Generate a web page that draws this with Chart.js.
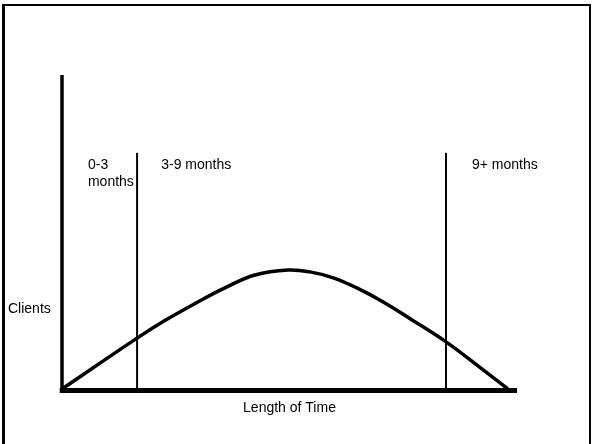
<!DOCTYPE html>
<html>
<head>
<meta charset="utf-8">
<script src="https://cdn.jsdelivr.net/npm/chart.js@4/dist/chart.umd.min.js"></script>
<style>
  html, body { margin: 0; padding: 0; background: #fff; }
  #wrap { position: relative; width: 592px; height: 444px; }
  #frame {
    position: absolute; left: 2px; top: 4px; width: 584px; height: 450px;
    border-left: 3px solid #000; border-top: 2px solid #000; border-right: 2px solid #000;
    pointer-events: none;
  }
</style>
</head>
<body>
<div id="wrap">
  <canvas id="lifeChart" width="592" height="444"></canvas>
  <div id="frame"></div>
</div>
<script>
// curve (x: length of time, y: clients, both 0-100)
const timeX = [0, 16.5, 22.6, 29.2, 35.8, 42.4, 49.7, 54.5, 59.6, 64.8, 70.5, 76.5, 84.4, 91.2, 98.0];
const clientsY = [0, 16.2, 21.8, 27.2, 32.2, 36.3, 37.9, 37.3, 35.4, 32.2, 27.8, 22.4, 15.0, 7.6, 0];

// stage dividers
const dividerX = [16.5, 84.4];
const dividerTop = 75.2;

// text labels placed in data units
const stageLabels = [
  { lines: ["0-3", "months"], x: 5.7, y: 71.3 },
  { lines: ["3-9 months"], x: 21.8, y: 71.3 },
  { lines: ["9+ months"], x: 90.1, y: 71.3 },
];
const xTitle = "Length of Time";
const yTitle = "Clients";

const curvePoints = timeX.map((x, i) => ({ x: x, y: clientsY[i] }));

const datasets = [
  {
    data: curvePoints,
    borderColor: "#000",
    borderWidth: 3.5,
    tension: 0.4,
    pointRadius: 0,
  },
  {
    data: [{ x: 0, y: -0.5 }, { x: 0, y: 100 }],
    borderColor: "#000",
    borderWidth: 3.5,
    pointRadius: 0,
  },
  {
    data: [{ x: -0.5, y: -0.5 }, { x: 100, y: -0.5 }],
    borderColor: "#000",
    borderWidth: 5,
    pointRadius: 0,
  },
];
dividerX.forEach((dx) => {
  datasets.push({
    data: [{ x: dx, y: 0 }, { x: dx, y: dividerTop }],
    borderColor: "#000",
    borderWidth: 2,
    pointRadius: 0,
  });
});
datasets.forEach((ds) => {
  ds.clip = false;
});

// draws the texts through the scales
const textPlugin = {
  id: "textPlugin",
  afterDatasetsDraw(chart) {
    const ctx = chart.ctx;
    const xs = chart.scales.x;
    const ys = chart.scales.y;
    ctx.save();
    ctx.fillStyle = "#000";
    ctx.font = "14px 'Liberation Sans', Arial, sans-serif";
    ctx.textBaseline = "middle";
    ctx.textAlign = "left";
    stageLabels.forEach((lab) => {
      const px = xs.getPixelForValue(lab.x);
      const py = ys.getPixelForValue(lab.y);
      lab.lines.forEach((line, i) => {
        ctx.fillText(line, px, py + i * 17);
      });
    });
    ctx.textAlign = "center";
    ctx.fillText(xTitle, xs.getPixelForValue(50), ys.getPixelForValue(0) + 19);
    ctx.textAlign = "left";
    ctx.fillText(yTitle, 8, ys.getPixelForValue(25.5));
    ctx.restore();
  },
};

new Chart(document.getElementById("lifeChart").getContext("2d"), {
  type: "scatter",
  data: { datasets: datasets },
  options: {
    responsive: false,
    animation: false,
    showLine: true,
    layout: { padding: { left: 62, right: 75, top: 75, bottom: 55 } },
    plugins: { legend: { display: false }, tooltip: { enabled: false } },
    scales: {
      x: { type: "linear", min: 0, max: 100, display: false },
      y: { type: "linear", min: 0, max: 100, display: false },
    },
  },
  plugins: [textPlugin],
});
</script>
</body>
</html>
